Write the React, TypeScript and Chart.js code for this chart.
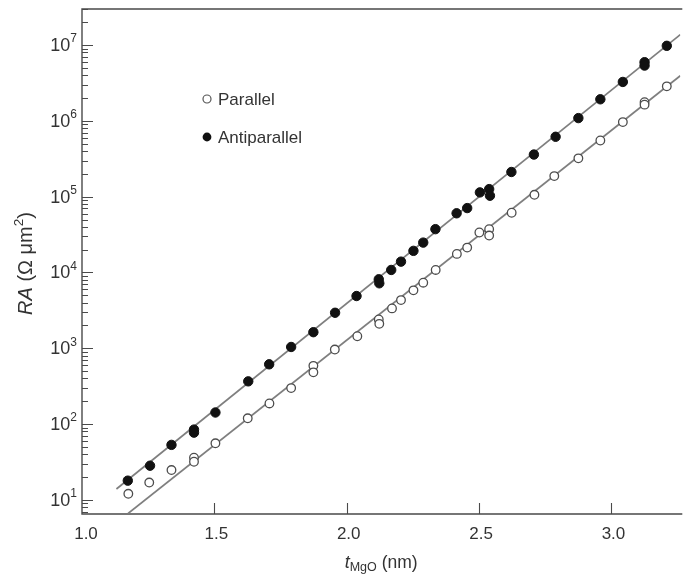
import React, { useEffect, useRef } from "react";
import { Chart, registerables } from "chart.js";
Chart.register(...registerables);

const parallelThickness = [1.175, 1.254, 1.338, 1.423, 1.423, 1.504, 1.626, 1.708, 1.79, 1.874, 1.874, 1.955, 2.04, 2.121, 2.123, 2.171, 2.205, 2.252, 2.289, 2.336, 2.416, 2.455, 2.501, 2.538, 2.538, 2.623, 2.709, 2.784, 2.875, 2.958, 3.043, 3.125, 3.125, 3.209];
const parallelRA = [12.0, 16.9, 24.7, 36.0, 31.8, 55.7, 119, 187, 298, 586, 481, 962, 1440, 2400, 2100, 3360, 4320, 5810, 7330, 10800, 17600, 21300, 33700, 37300, 30700, 61400, 106000, 187000, 321000, 552000, 965000, 1770000, 1640000, 2860000];
const antiThickness = [1.173, 1.257, 1.338, 1.423, 1.423, 1.504, 1.628, 1.707, 1.79, 1.874, 1.956, 2.037, 2.121, 2.123, 2.168, 2.205, 2.252, 2.289, 2.335, 2.415, 2.455, 2.503, 2.538, 2.541, 2.622, 2.707, 2.789, 2.875, 2.958, 3.043, 3.125, 3.125, 3.209];
const antiRA = [17.9, 28.2, 53.1, 84.5, 77, 142, 366, 614, 1040, 1630, 2940, 4890, 8130, 7200, 10800, 13900, 19300, 24800, 37300, 60400, 70800, 114000, 126000, 103000, 212000, 360000, 618000, 1090000, 1930000, 3270000, 5960000, 5380000, 9800000];

const antiFitThickness = [1.13, 3.26];
const antiFitRA = [13.9, 1.38e7];
const parallelFitThickness = [1.174, 3.26];
const parallelFitRA = [6.6, 3.95e6];

const xTickValues = [1.0, 1.5, 2.0, 2.5, 3.0];
const yDecadeExponents = [1, 2, 3, 4, 5, 6, 7];
const legendLabels = ["Parallel", "Antiparallel"];

const X_MIN = 1.0;
const X_MAX = 3.26;
const Y_MIN = 6.5;
const Y_MAX = 3.0e7;

const FONT = '"Liberation Sans", Arial, Helvetica, sans-serif';
const AXIS_COLOR = "#4a4a4a";
const TEXT_COLOR = "#333";

type Run = { text: string; font: string; dy: number };

function runsWidth(ctx: CanvasRenderingContext2D, runs: Run[]) {
  let w = 0;
  for (const r of runs) {
    ctx.font = r.font;
    w += ctx.measureText(r.text).width;
  }
  return w;
}

function drawRuns(ctx: CanvasRenderingContext2D, runs: Run[], x: number, y: number) {
  let cx = x;
  for (const r of runs) {
    ctx.font = r.font;
    ctx.fillText(r.text, cx, y + r.dy);
    cx += ctx.measureText(r.text).width;
  }
}

const zip = (xs: number[], ys: number[]) => xs.map((x, i) => ({ x, y: ys[i] }));

const decorPlugin = {
  id: "decor",
  beforeDatasetsDraw(chart: any) {
    const ctx: CanvasRenderingContext2D = chart.ctx;
    const { left, right, top, bottom } = chart.chartArea;
    const xs = chart.scales.x;
    const ys = chart.scales.y;
    ctx.save();
    ctx.strokeStyle = AXIS_COLOR;
    ctx.lineWidth = 1.4;
    ctx.beginPath();
    ctx.moveTo(right + 2, top);
    ctx.lineTo(left, top);
    ctx.lineTo(left, bottom);
    ctx.lineTo(right + 2, bottom);
    ctx.stroke();

    ctx.lineWidth = 1.1;
    ctx.beginPath();
    for (const v of xTickValues) {
      const px = Math.round(xs.getPixelForValue(v)) + 0.5;
      if (px <= left + 2) continue;
      ctx.moveTo(px, bottom);
      ctx.lineTo(px, bottom - 11);
    }
    ctx.stroke();
    ctx.beginPath();
    for (let e = 0; e <= 7; e++) {
      for (let m = 1; m <= 9; m++) {
        const v = m * Math.pow(10, e);
        if (v < Y_MIN || v > Y_MAX) continue;
        const py = Math.round(ys.getPixelForValue(v)) + 0.5;
        const len = m === 1 ? 11 : 6;
        ctx.moveTo(left, py);
        ctx.lineTo(left + len, py);
      }
    }
    ctx.stroke();
    ctx.restore();
  },
  afterDraw(chart: any) {
    const ctx: CanvasRenderingContext2D = chart.ctx;
    const { left, right, top, bottom } = chart.chartArea;
    const xs = chart.scales.x;
    const ys = chart.scales.y;
    ctx.save();
    ctx.fillStyle = TEXT_COLOR;

    ctx.font = `17px ${FONT}`;
    ctx.textAlign = "center";
    ctx.textBaseline = "middle";
    for (const v of xTickValues) {
      const px = xs.getPixelForValue(v);
      ctx.fillText(v.toFixed(1), px + (v === X_MIN ? 4 : 2), bottom + 20);
    }

    ctx.textAlign = "left";
    for (const e of yDecadeExponents) {
      const py = ys.getPixelForValue(Math.pow(10, e));
      const runs: Run[] = [
        { text: "10", font: `18px ${FONT}`, dy: 1 },
        { text: String(e), font: `12px ${FONT}`, dy: -6 },
      ];
      const w = runsWidth(ctx, runs);
      drawRuns(ctx, runs, left - 5 - w, py);
    }

    const xRuns: Run[] = [
      { text: "t", font: `italic 18px ${FONT}`, dy: 0 },
      { text: "MgO", font: `12.5px ${FONT}`, dy: 5 },
      { text: " (nm)", font: `17.5px ${FONT}`, dy: 0 },
    ];
    const xw = runsWidth(ctx, xRuns);
    drawRuns(ctx, xRuns, (left + right) / 2 - xw / 2, bottom + 49);

    ctx.save();
    ctx.translate(26, (top + bottom) / 2 + 2);
    ctx.rotate(-Math.PI / 2);
    const yRuns: Run[] = [
      { text: "RA", font: `italic 20px ${FONT}`, dy: 0 },
      { text: " (\u03A9 \u03BCm", font: `20px ${FONT}`, dy: 0 },
      { text: "2", font: `13.5px ${FONT}`, dy: -7 },
      { text: ")", font: `20px ${FONT}`, dy: 0 },
    ];
    const yw = runsWidth(ctx, yRuns);
    drawRuns(ctx, yRuns, -yw / 2, 0);
    ctx.restore();

    const legendY = [99, 137];
    ctx.font = `17px ${FONT}`;
    ctx.textAlign = "left";
    for (let i = 0; i < legendLabels.length; i++) {
      const cy = legendY[i];
      ctx.beginPath();
      ctx.arc(207, cy, i === 0 ? 4 : 4.4, 0, Math.PI * 2);
      if (i === 0) {
        ctx.fillStyle = "#fff";
        ctx.fill();
        ctx.strokeStyle = "#555";
        ctx.lineWidth = 1.2;
        ctx.stroke();
      } else {
        ctx.fillStyle = "#111";
        ctx.fill();
      }
      ctx.fillStyle = TEXT_COLOR;
      ctx.fillText(legendLabels[i], 218, cy + 1);
    }
    ctx.restore();
  },
};

export default function App() {
  const ref = useRef<HTMLCanvasElement | null>(null);
  useEffect(() => {
    if (!ref.current) return;
    const chart = new Chart(ref.current, {
      type: "scatter",
      data: {
        datasets: [
          {
            label: "Antiparallel",
            data: zip(antiThickness, antiRA),
            pointRadius: 4.7,
            pointBackgroundColor: "#111",
            pointBorderColor: "#111",
            pointBorderWidth: 1,
            showLine: false,
          },
          {
            label: "Parallel",
            data: zip(parallelThickness, parallelRA),
            pointRadius: 4.3,
            pointBackgroundColor: "#fff",
            pointBorderColor: "#4d4d4d",
            pointBorderWidth: 1.3,
            showLine: false,
          },
          {
            label: "AP fit",
            data: zip(antiFitThickness, antiFitRA),
            showLine: true,
            borderColor: "#7f7f7f",
            borderWidth: 1.7,
            pointRadius: 0,
          },
          {
            label: "P fit",
            data: zip(parallelFitThickness, parallelFitRA),
            showLine: true,
            borderColor: "#7f7f7f",
            borderWidth: 1.7,
            pointRadius: 0,
          },
        ],
      },
      options: {
        animation: false,
        responsive: true,
        maintainAspectRatio: false,
        layout: { padding: { left: 82, top: 9, right: 0, bottom: 65 } },
        plugins: { legend: { display: false }, tooltip: { enabled: false } },
        scales: {
          x: { type: "linear", min: X_MIN, max: X_MAX, display: false },
          y: { type: "logarithmic", min: Y_MIN, max: Y_MAX, display: false },
        },
      },
      plugins: [decorPlugin],
    });
    return () => chart.destroy();
  }, []);
  return (
    <div style={{ position: "fixed", left: 0, top: 0, width: 686, height: 579, background: "#fff" }}>
      <canvas ref={ref} />
    </div>
  );
}
